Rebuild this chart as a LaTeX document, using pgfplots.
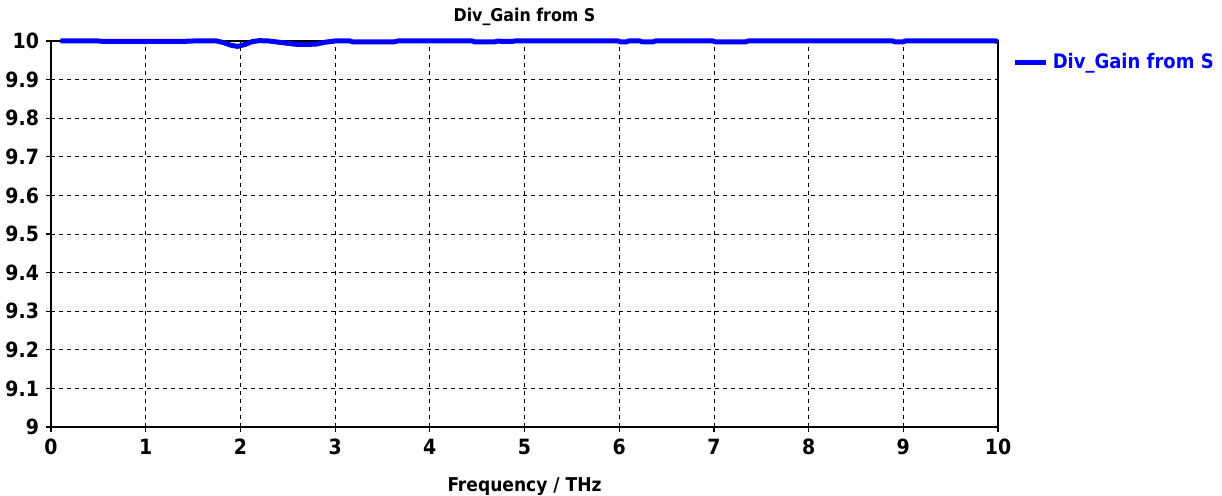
\documentclass[border=0pt]{standalone}
\usepackage{fontspec}
\setmainfont{DejaVu Sans Condensed}
\usepackage{pgfplots}
\pgfplotsset{compat=1.18}
\begin{document}
\begin{tikzpicture}
\useasboundingbox (0,0) rectangle (611pt,248pt);
\begin{axis}[
  at={(25.5pt,34.5pt)}, anchor=south west,
  scale only axis, width=473.5pt, height=193pt,
  xmin=0, xmax=10, ymin=9, ymax=10,
  clip=false,
  xtick={0,1,...,10},
  ytick={9,9.1,9.2,9.3,9.4,9.5,9.6,9.7,9.8,9.9,10},
  yticklabels={9,9.1,9.2,9.3,9.4,9.5,9.6,9.7,9.8,9.9,10},
  /pgf/number format/assume math mode=true,
  ticklabel style={font=\fontsize{10.5}{12}\selectfont\bfseries},
  grid=major,
  major grid style={black, dash pattern=on 2pt off 2pt, line width=0.4pt},
  axis line style={black, line width=0.6pt},
  tick align=outside, major tick length=2.5pt,
  xtick pos=bottom, ytick pos=left,
  tick style={black, line width=0.6pt},
  title={Div\_Gain from S},
  title style={font=\fontsize{8.8}{10}\selectfont\bfseries, yshift=-2pt},
  xlabel={Frequency / THz},
  xlabel style={font=\fontsize{9.5}{11}\selectfont\bfseries, yshift=-4.5pt},
  legend style={at={(1.0085,0.99)}, anchor=north west, draw=none, fill=none,
    font=\fontsize{10}{12}\selectfont\bfseries\color{blue}},
  legend cell align=left,
  legend image code/.code={\draw[#1, line width=2.5pt] (0cm,0cm) -- (0.55cm,0cm);},
]
\addplot[color={rgb,255:red,0;green,0;blue,255}, line width=2.5pt, line join=round] coordinates {
(0.10,10.000) (0.50,10.000) (0.55,9.999) (1.30,9.999) (1.40,9.999) (1.50,10.000)
(1.75,10.000) (1.82,9.996) (1.90,9.989) (1.97,9.986) (2.05,9.991) (2.12,9.998)
(2.20,10.001) (2.30,10.000) (2.40,9.997) (2.50,9.994) (2.60,9.991) (2.70,9.991)
(2.80,9.992) (2.90,9.997) (3.00,10.000) (3.16,10.000) (3.18,9.998) (3.63,9.998)
(3.66,10.000) (4.45,10.000) (4.47,9.998) (4.69,9.998) (4.72,10.000) (4.76,9.999)
(4.87,9.999) (4.90,10.000) (5.99,10.000) (6.01,9.998) (6.08,9.998) (6.10,10.000)
(6.22,10.000) (6.24,9.998) (6.36,9.998) (6.38,10.000) (6.99,10.000) (7.01,9.998)
(7.34,9.998) (7.36,10.000) (8.89,10.000) (8.91,9.998) (9.00,9.998) (9.02,10.000)
(9.97,10.000) (10.00,9.999)
};
\addlegendentry{Div\_Gain from S}
\end{axis}
\end{tikzpicture}
\end{document}
